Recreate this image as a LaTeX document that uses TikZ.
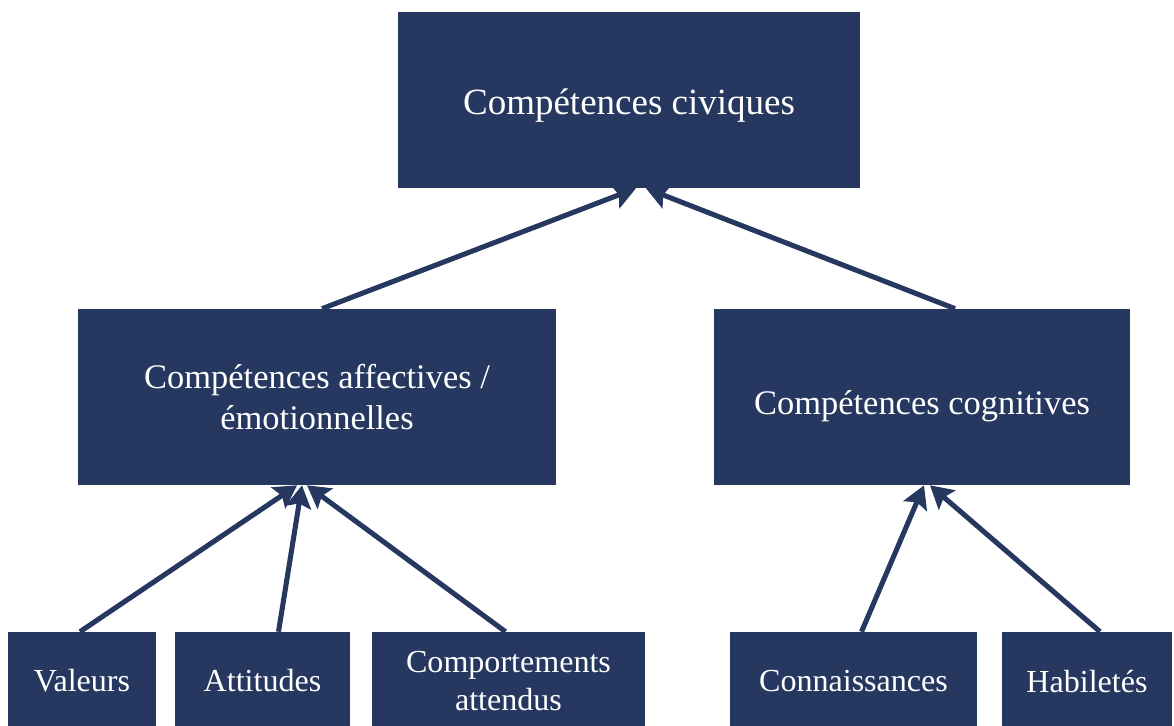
\documentclass[tikz,border=0pt]{standalone}
\usepackage{fontspec}
\setmainfont{Liberation Serif}
\usetikzlibrary{arrows.meta,calc}
\definecolor{navy}{RGB}{38,55,96}
\begin{document}
\begin{tikzpicture}[x=0.025cm,y=-0.025cm,
    box/.style={fill=navy,text=white,inner sep=0pt,align=center},
    bigbox/.style={box,minimum height=4.4cm},
    smallbox/.style={box,minimum height=2.45cm,font=\fontsize{22.8}{27}\selectfont},
    link/.style={navy,line width=3.6pt,-{Stealth[length=16pt,width=18pt,inset=3pt]}}]
        \useasboundingbox (0,0) rectangle (1174,725);
        \clip (0,0) rectangle (1174,725);
        \node[bigbox,minimum width=11.55cm,text height=21pt,text depth=0pt,font=\fontsize{26.3}{31}\selectfont] (civ) at (629,100) {Compétences civiques};
        \node[bigbox,minimum width=11.95cm,font=\fontsize{24.5}{28.5}\selectfont] (aff) at (317,397) {Compétences affectives /\\émotionnelles};
        \node[bigbox,minimum width=10.4cm,text height=25pt,text depth=0pt,font=\fontsize{24.5}{28.5}\selectfont] (cog) at (922,397) {Compétences cognitives};
        \node[smallbox,minimum width=3.7cm] (val) at (82,681) {Valeurs};
        \node[smallbox,minimum width=4.375cm] (att) at (262.5,681) {Attitudes};
        \node[smallbox,minimum width=6.825cm] (comp) at (508.5,681) {Comportements\\attendus};
        \node[smallbox,minimum width=6.175cm] (con) at (853.5,681) {Connaissances};
        \node[smallbox,minimum width=4.25cm] (hab) at (1087,681) {Habiletés};
        \draw[link] ($(aff.north)+(5,0)$) -- ($(civ.south)+(7,0)$);
        \draw[link] ($(cog.north)+(33,0)$) -- ($(civ.south)+(17,0)$);
        \draw[link] ($(val.north)+(-2,0)$) -- ($(aff.south)+(-20,0)$);
        \draw[link] ($(att.north)+(16,0)$) -- ($(aff.south)+(-15,0)$);
        \draw[link] ($(comp.north)+(-3,0)$) -- ($(aff.south)+(-10,0)$);
        \draw[link] ($(con.north)+(8,0)$) -- ($(cog.south)+(2,0)$);
        \draw[link] ($(hab.north)+(13,0)$) -- ($(cog.south)+(8,0)$);
    \end{tikzpicture}
\end{document}
